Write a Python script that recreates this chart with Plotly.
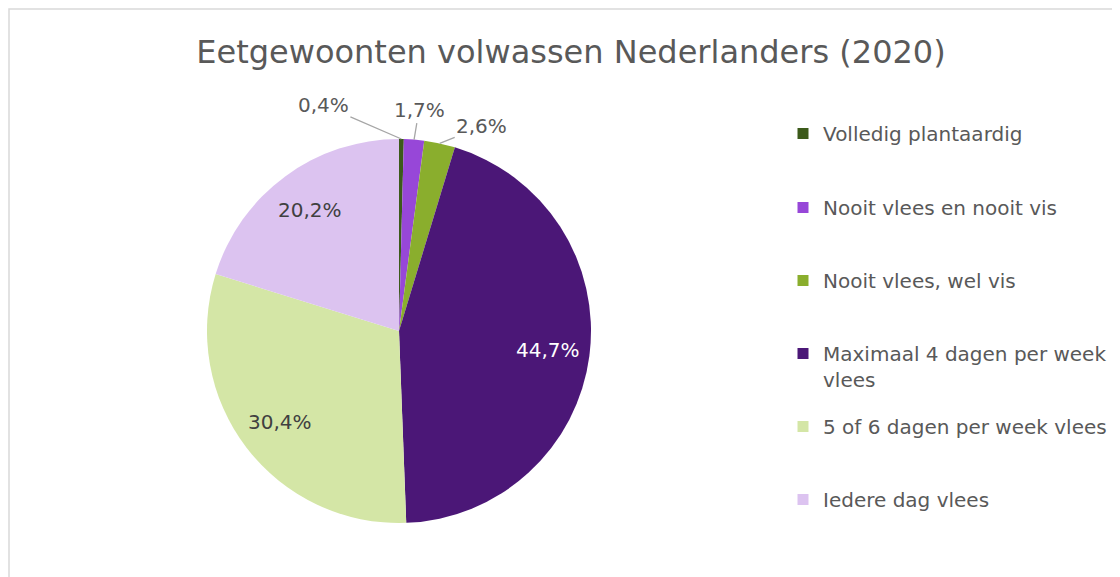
import numpy as np
import plotly.graph_objects as go

# eetgewoonten volwassen Nederlanders 2020
categorieen = ["Volledig plantaardig", "Nooit vlees en nooit vis", "Nooit vlees, wel vis",
               "Maximaal 4 dagen per week<br>vlees", "5 of 6 dagen per week vlees", "Iedere dag vlees"]
percentages = [0.4, 1.7, 2.6, 44.7, 30.4, 20.2]
labels_tekst = ["0,4%", "1,7%", "2,6%", "44,7%", "30,4%", "20,2%"]
kleuren = ["#3C5A1A", "#9747D8", "#8AAE2D", "#4B1777", "#D4E6A6", "#DCC3F0"]

# de pagina heeft 8px body-marge, daarom is de figuur 8px kleiner
OFF = 8
W, H = 1120 - OFF, 577 - OFF
cx, cy, R = 399 - OFF, 331 - OFF, 192  # middelpunt en straal in px
tekstkleur = "#595959"
lettertype = "DejaVu Sans"


def px2paper(x, y):
    return x / W, 1 - y / H


fig = go.Figure()
x0, y0 = px2paper(cx - R, cy + R)
x1, y1 = px2paper(cx + R, cy - R)
fig.add_trace(go.Pie(
    labels=[c.replace("<br>", " ") for c in categorieen],
    values=percentages,
    marker=dict(colors=kleuren, line=dict(color="white", width=0)),
    sort=False,
    direction="clockwise",
    rotation=0,
    textinfo="none",
    hoverinfo="label+percent",
    showlegend=False,
    domain=dict(x=[x0, x1], y=[y0, y1]),
))

# legenda: elk item een eigen legend zodat de afstand gelijk blijft (zoals Excel)
legend_y = [134, 208, 281, 354, 427, 500]  # midden van eerste regel, scherm-px
legends = {}
for i, (naam, kleur) in enumerate(zip(categorieen, kleuren)):
    lid = "legend" if i == 0 else "legend%d" % (i + 1)
    fig.add_trace(go.Scatter(
        x=[None], y=[None], mode="markers", name=naam, legend=lid,
        marker=dict(symbol="square", size=11, color=kleur),
        hoverinfo="skip",
    ))
    lx, ly = px2paper(783 - OFF, legend_y[i] - OFF - 20)
    legends[lid] = dict(x=lx, xanchor="left", y=ly, yanchor="top", valign="top",
                        font=dict(size=20, color=tekstkleur, family=lettertype),
                        bgcolor="rgba(0,0,0,0)", itemclick=False, itemdoubleclick=False)

# posities van de labels berekend uit de data
totaal = sum(percentages)
cum = np.cumsum([0] + percentages[:-1])
mid = [(c + p / 2) / totaal * 2 * np.pi for c, p in zip(cum, percentages)]

buiten_offset = [(-78, -34), (5, -30), (42, -17)]
for i, (hoek, txt) in enumerate(zip(mid, labels_tekst)):
    if i < 3:
        px = cx + R * np.sin(hoek)
        py = cy - R * np.cos(hoek)
        ax, ay = buiten_offset[i]
        x, y = px2paper(px, py)
        fig.add_annotation(x=x, y=y, xref="paper", yref="paper",
                           text=txt, showarrow=True, arrowhead=0, arrowwidth=1.3,
                           arrowcolor="#A6A6A6", ax=ax, ay=ay, standoff=0,
                           font=dict(size=20, color=tekstkleur, family=lettertype))
    else:
        px = cx + 0.78 * R * np.sin(hoek)
        py = cy - 0.78 * R * np.cos(hoek)
        x, y = px2paper(px, py)
        kleur = "white" if i == 3 else "#404040"
        fig.add_annotation(x=x, y=y, xref="paper", yref="paper",
                           xanchor="center", yanchor="middle",
                           text=txt, showarrow=False,
                           font=dict(size=20, color=kleur, family=lettertype))

# rand van het grafiekgebied
fig.add_shape(type="rect", xref="paper", yref="paper",
              x0=1 / W, y0=-0.05, x1=1.05, y1=1 - 1 / H,
              line=dict(color="#D9D9D9", width=1.5), fillcolor="rgba(0,0,0,0)")

tx, ty = px2paper(571 - OFF, 52 - OFF)
fig.update_layout(
    width=W, height=H,
    margin=dict(l=0, r=0, t=0, b=0),
    paper_bgcolor="white",
    plot_bgcolor="white",
    font=dict(family=lettertype, color=tekstkleur),
    title=dict(text="Eetgewoonten volwassen Nederlanders (2020)",
               x=tx, xanchor="center", y=ty, yanchor="middle",
               font=dict(size=32, color=tekstkleur, family=lettertype)),
    xaxis=dict(visible=False),
    yaxis=dict(visible=False),
    showlegend=True,
    **legends,
)

fig.write_html("out.html")
